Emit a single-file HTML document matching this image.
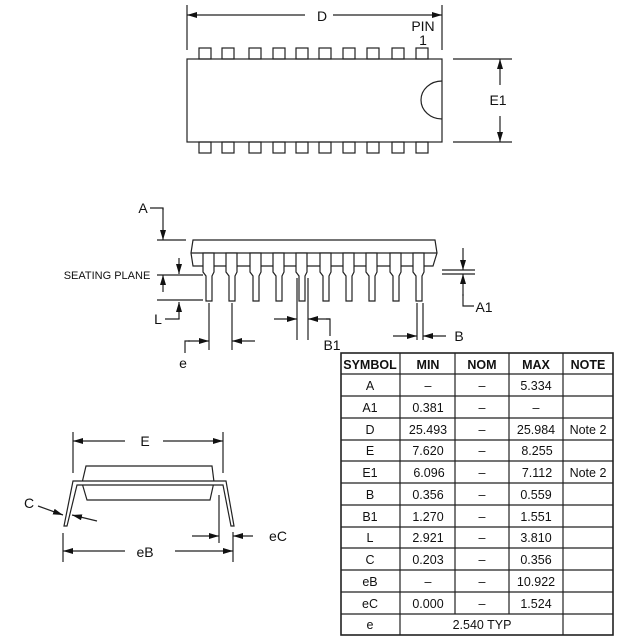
<!DOCTYPE html>
<html><head><meta charset="utf-8"><style>
html,body{margin:0;padding:0;background:#fff;}
svg{display:block;font-family:"Liberation Sans",sans-serif;}
</style></head><body>
<svg width="640" height="640" viewBox="0 0 640 640" xmlns="http://www.w3.org/2000/svg">
<defs>
<marker id="ah" viewBox="0 0 10 6" refX="10" refY="3" markerWidth="10" markerHeight="6" markerUnits="userSpaceOnUse" orient="auto"><path d="M0,0 L10,3 L0,6 z" fill="#111"/></marker>
</defs>
<g stroke="#222" stroke-width="1.2" fill="none">
<rect x="187" y="59" width="255" height="83" fill="#fff"/>
<path d="M442,81 A21,19 0 0 0 442,119" />
<g>
<rect x="199" y="48" width="12" height="11"/><rect x="222" y="48" width="12" height="11"/><rect x="249" y="48" width="12" height="11"/><rect x="273" y="48" width="12" height="11"/><rect x="296" y="48" width="12" height="11"/><rect x="319" y="48" width="12" height="11"/><rect x="343" y="48" width="12" height="11"/><rect x="367" y="48" width="12" height="11"/><rect x="392" y="48" width="12" height="11"/><rect x="416" y="48" width="12" height="11"/>
<rect x="199" y="142" width="12" height="11"/><rect x="222" y="142" width="12" height="11"/><rect x="249" y="142" width="12" height="11"/><rect x="273" y="142" width="12" height="11"/><rect x="296" y="142" width="12" height="11"/><rect x="319" y="142" width="12" height="11"/><rect x="343" y="142" width="12" height="11"/><rect x="367" y="142" width="12" height="11"/><rect x="392" y="142" width="12" height="11"/><rect x="416" y="142" width="12" height="11"/>
</g>
<line x1="187" y1="5" x2="187" y2="50"/><line x1="442" y1="5" x2="442" y2="50"/>
<line x1="305" y1="15" x2="187" y2="15" marker-end="url(#ah)"/>
<line x1="333" y1="15" x2="442" y2="15" marker-end="url(#ah)"/>
<line x1="453" y1="59" x2="512" y2="59"/><line x1="453" y1="142" x2="512" y2="142"/>
<line x1="500" y1="85" x2="500" y2="59" marker-end="url(#ah)"/>
<line x1="500" y1="116" x2="500" y2="142" marker-end="url(#ah)"/>

<path d="M193,240 L435,240 L437,253 L433,266 L193,266 L191,253 Z"/>
<line x1="191" y1="253" x2="437" y2="253"/>
<g fill="#fff">
<path d="M203,253 h11 v19 l-2,4 v25 h-6 v-25 l-3,-4 z"/>
<path d="M226,253 h11 v19 l-2,4 v25 h-6 v-25 l-3,-4 z"/>
<path d="M250,253 h11 v19 l-2,4 v25 h-6 v-25 l-3,-4 z"/>
<path d="M273,253 h11 v19 l-2,4 v25 h-6 v-25 l-3,-4 z"/>
<path d="M296,253 h11 v19 l-2,4 v25 h-6 v-25 l-3,-4 z"/>
<path d="M320,253 h11 v19 l-2,4 v25 h-6 v-25 l-3,-4 z"/>
<path d="M343,253 h11 v19 l-2,4 v25 h-6 v-25 l-3,-4 z"/>
<path d="M366,253 h11 v19 l-2,4 v25 h-6 v-25 l-3,-4 z"/>
<path d="M390,253 h11 v19 l-2,4 v25 h-6 v-25 l-3,-4 z"/>
<path d="M413,253 h11 v19 l-2,4 v25 h-6 v-25 l-3,-4 z"/>
</g>
<polyline points="150,208 163,208 163,210"/>
<line x1="163" y1="208" x2="163" y2="240" marker-end="url(#ah)"/>
<line x1="157" y1="240" x2="186" y2="240"/>
<line x1="179" y1="258" x2="179" y2="274" marker-end="url(#ah)"/>
<line x1="157" y1="275" x2="203" y2="275"/>
<line x1="163" y1="292" x2="163" y2="275" marker-end="url(#ah)"/>
<line x1="157" y1="300" x2="203" y2="300"/>
<polyline points="165,319 179,319 179,318"/>
<line x1="179" y1="319" x2="179" y2="302" marker-end="url(#ah)"/>
<line x1="442" y1="270" x2="475" y2="270"/><line x1="442" y1="274" x2="475" y2="274"/>
<line x1="463" y1="248" x2="463" y2="270" marker-end="url(#ah)"/>
<line x1="463" y1="296" x2="463" y2="274" marker-end="url(#ah)"/>
<polyline points="463,294 463,306 474,306"/>
<line x1="209" y1="303" x2="209" y2="350"/><line x1="232" y1="303" x2="232" y2="350"/>
<polyline points="185,353 185,341 190,341"/>
<line x1="188" y1="341" x2="209" y2="341" marker-end="url(#ah)"/>
<line x1="255" y1="341" x2="232" y2="341" marker-end="url(#ah)"/>
<line x1="297" y1="278" x2="297" y2="340"/><line x1="308" y1="278" x2="308" y2="340"/>
<line x1="274" y1="319" x2="297" y2="319" marker-end="url(#ah)"/>
<polyline points="330,336 330,319 326,319"/>
<line x1="330" y1="319" x2="308" y2="319" marker-end="url(#ah)"/>
<line x1="417" y1="303" x2="417" y2="340"/><line x1="423" y1="303" x2="423" y2="340"/>
<line x1="393" y1="336" x2="417" y2="336" marker-end="url(#ah)"/>
<line x1="446" y1="336" x2="423" y2="336" marker-end="url(#ah)"/>

<line x1="73" y1="432" x2="73" y2="473"/><line x1="223" y1="432" x2="223" y2="473"/>
<line x1="125" y1="441" x2="73" y2="441" marker-end="url(#ah)"/>
<line x1="163" y1="441" x2="223" y2="441" marker-end="url(#ah)"/>
<path d="M86,466 L212,466 L214,482 L210,500 L87,500 L82,483 Z"/>
<path d="M64,526 L73,481 L226,481 L234,526 L231,526 L223,485 L77,485 L67,526 Z" fill="#fff"/>
<line x1="38" y1="506" x2="63" y2="515" marker-end="url(#ah)"/>
<line x1="97" y1="521" x2="72" y2="515" marker-end="url(#ah)"/>
<line x1="219" y1="495" x2="219" y2="543"/>
<line x1="233" y1="532" x2="233" y2="562"/>
<line x1="63" y1="533" x2="63" y2="562"/>
<line x1="192" y1="536" x2="219" y2="536" marker-end="url(#ah)"/>
<line x1="253" y1="536" x2="233" y2="536" marker-end="url(#ah)"/>
<line x1="125" y1="551" x2="63" y2="551" marker-end="url(#ah)"/>
<line x1="175" y1="551" x2="233" y2="551" marker-end="url(#ah)"/>

<rect x="341" y="353" width="272" height="282" stroke-width="1.6"/>
<line x1="341" y1="374" x2="613" y2="374"/>
<line x1="341" y1="396" x2="613" y2="396"/><line x1="341" y1="418" x2="613" y2="418"/>
<line x1="341" y1="440" x2="613" y2="440"/><line x1="341" y1="461" x2="613" y2="461"/>
<line x1="341" y1="483" x2="613" y2="483"/><line x1="341" y1="505" x2="613" y2="505"/>
<line x1="341" y1="527" x2="613" y2="527"/><line x1="341" y1="548" x2="613" y2="548"/>
<line x1="341" y1="570" x2="613" y2="570"/><line x1="341" y1="592" x2="613" y2="592"/>
<line x1="341" y1="614" x2="613" y2="614"/>
<line x1="400" y1="353" x2="400" y2="635"/>
<line x1="455" y1="353" x2="455" y2="614"/>
<line x1="509" y1="353" x2="509" y2="614"/>
<line x1="563" y1="353" x2="563" y2="635"/>
</g>
<g fill="#111" font-size="14">
<text x="322" y="21" text-anchor="middle">D</text>
<text x="423" y="31" text-anchor="middle">PIN</text>
<text x="423" y="45" text-anchor="middle">1</text>
<text x="498" y="105" text-anchor="middle">E1</text>
<text x="143" y="213" text-anchor="middle">A</text>
<text x="107" y="279" text-anchor="middle" font-size="11">SEATING PLANE</text>
<text x="158" y="324" text-anchor="middle">L</text>
<text x="484" y="312" text-anchor="middle">A1</text>
<text x="459" y="341" text-anchor="middle">B</text>
<text x="332" y="350" text-anchor="middle">B1</text>
<text x="183" y="368" text-anchor="middle">e</text>
<text x="145" y="446" text-anchor="middle">E</text>
<text x="29" y="508" text-anchor="middle">C</text>
<text x="278" y="541" text-anchor="middle">eC</text>
<text x="145" y="557" text-anchor="middle">eB</text>
</g>
<g fill="#111" font-size="12.5" text-anchor="middle">
<g font-weight="bold"><text x="370" y="369">SYMBOL</text><text x="428" y="369">MIN</text><text x="482" y="369">NOM</text><text x="536" y="369">MAX</text><text x="588" y="369">NOTE</text></g>
<text x="370" y="390">A</text><text x="428" y="390">–</text><text x="482" y="390">–</text><text x="536" y="390">5.334</text>
<text x="370" y="412">A1</text><text x="428" y="412">0.381</text><text x="482" y="412">–</text><text x="536" y="412">–</text>
<text x="370" y="434">D</text><text x="428" y="434">25.493</text><text x="482" y="434">–</text><text x="536" y="434">25.984</text><text x="588" y="434">Note 2</text>
<text x="370" y="455">E</text><text x="428" y="455">7.620</text><text x="482" y="455">–</text><text x="537" y="455">8.255</text>
<text x="370" y="477">E1</text><text x="429" y="477">6.096</text><text x="482" y="477">–</text><text x="537" y="477">7.112</text><text x="588" y="477">Note 2</text>
<text x="370" y="499">B</text><text x="428" y="499">0.356</text><text x="482" y="499">–</text><text x="536" y="499">0.559</text>
<text x="370" y="521">B1</text><text x="428" y="521">1.270</text><text x="482" y="521">–</text><text x="536" y="521">1.551</text>
<text x="370" y="542">L</text><text x="428" y="542">2.921</text><text x="482" y="542">–</text><text x="536" y="542">3.810</text>
<text x="370" y="564">C</text><text x="428" y="564">0.203</text><text x="482" y="564">–</text><text x="536" y="564">0.356</text>
<text x="370" y="586">eB</text><text x="428" y="586">–</text><text x="482" y="586">–</text><text x="536" y="586">10.922</text>
<text x="370" y="608">eC</text><text x="428" y="608">0.000</text><text x="482" y="608">–</text><text x="536" y="608">1.524</text>
<text x="370" y="629">e</text><text x="482" y="629">2.540 TYP</text>
</g>
</svg>
</body></html>
